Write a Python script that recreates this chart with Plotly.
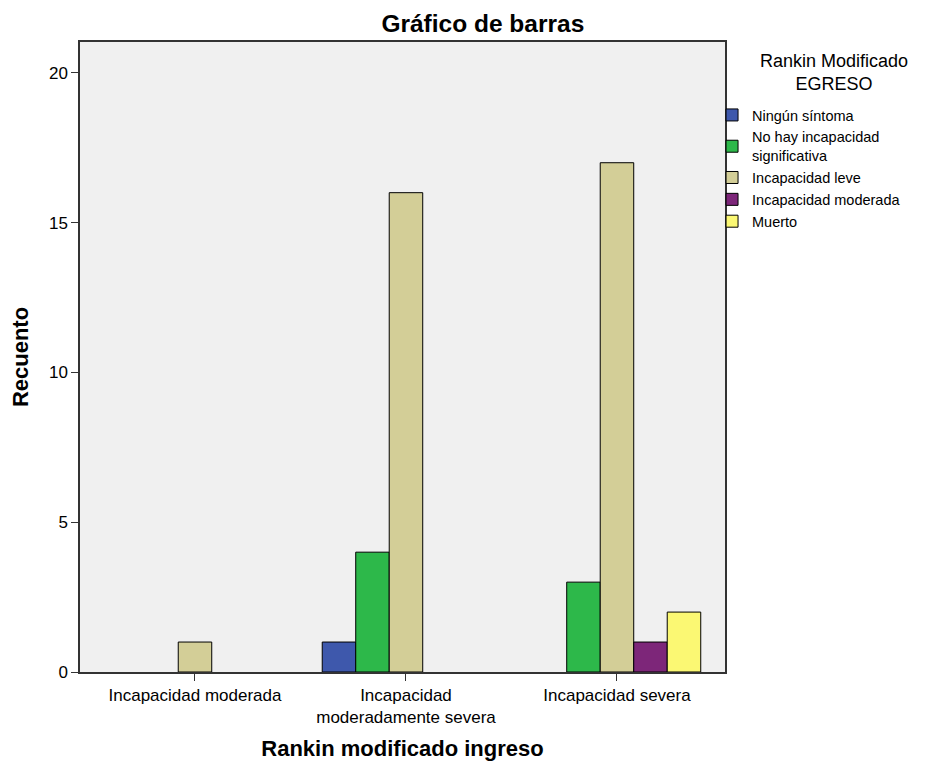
import plotly.graph_objects as go

categories = ["Incapacidad moderada", "Incapacidad<br>moderadamente severa", "Incapacidad severa"]
series_names = ["Ningún síntoma", "No hay incapacidad<br>significativa", "Incapacidad leve",
                "Incapacidad moderada", "Muerto"]
ningun = [None, 1, None]
no_hay = [None, 4, 3]
leve = [1, 16, 17]
moderada = [None, None, 1]
muerto = [None, None, 2]
values = [ningun, no_hay, leve, moderada, muerto]
colors = ["#3E58AC", "#2DB84A", "#D3CE97", "#7D2679", "#FBF873"]

fig = go.Figure()
for name, vals, col in zip(series_names, values, colors):
    fig.add_trace(go.Bar(x=categories, y=vals, name=name,
                         marker=dict(color=col, line=dict(color="#000000", width=1))))

font_family = "Liberation Sans, Arial, sans-serif"
fig.update_layout(
    width=922, height=756,
    barmode="group", bargap=0.206, bargroupgap=0,
    paper_bgcolor="white", plot_bgcolor="#F0F0F0",
    margin=dict(l=72, r=205, t=34, b=92, autoexpand=False),
    font=dict(family=font_family, color="#000000"),
    title=dict(text="<b>Gráfico de barras</b>", x=0.515, xref="container", xanchor="center",
               y=0.979, yanchor="middle", font=dict(size=24.5, family=font_family)),
    xaxis=dict(range=[-0.545, 2.512], showline=True, linecolor="#333333", linewidth=1.5,
               mirror=True, ticks="outside", ticklen=7, tickcolor="#333333",
               tickfont=dict(size=17), showgrid=False, automargin=False,
               title=dict(text="<b>Rankin modificado ingreso</b>", font=dict(size=22), standoff=14)),
    yaxis=dict(range=[0, 21.03], showline=True, linecolor="#333333", linewidth=1.5,
               mirror=True, ticks="outside", ticklen=7, tickcolor="#333333",
               tickvals=[0, 5, 10, 15, 20], tickfont=dict(size=17), showgrid=False, zeroline=False,
               automargin=False,
               title=dict(text="<b>Recuento</b>", font=dict(size=22), standoff=14)),
    legend=dict(x=0.7636, xref="container", xanchor="left", y=0.8796, yref="container",
                yanchor="top", bgcolor="rgba(0,0,0,0)", font=dict(size=14.5), tracegroupgap=0),
    annotations=[dict(text="Rankin Modificado<br>EGRESO", x=1.169, y=0.951, xref="paper",
                      yref="paper", xanchor="center", yanchor="middle", align="center",
                      showarrow=False, font=dict(size=18))],
)
fig.write_html("out.html")
